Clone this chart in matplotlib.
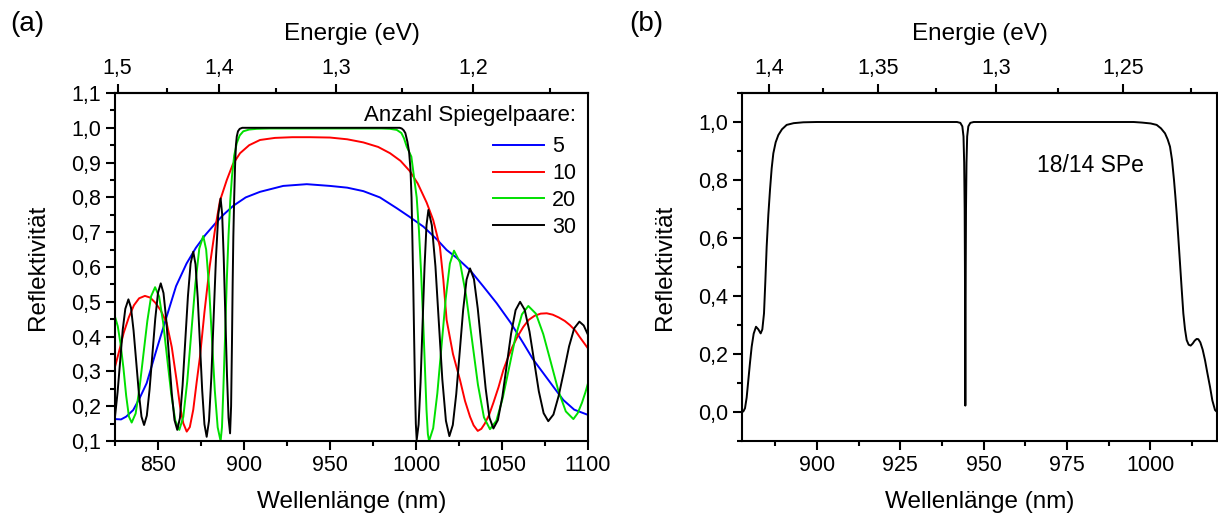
import numpy as np
import matplotlib
matplotlib.use("Agg")
import matplotlib.pyplot as plt
from matplotlib.ticker import MultipleLocator, FixedLocator, FuncFormatter

plt.rcParams["font.family"] = ["Liberation Sans", "DejaVu Sans"]

HC = 1239.84  # eV*nm

# ---- (a) Reflektivität vs. Wellenlänge für verschiedene Spiegelpaare ----
wl_5 = [825.0, 828.5, 831.5, 835.6, 839.5, 843.4, 849.0, 855.0, 860.5, 866.6,
        872.0, 877.5, 883.1, 888.0, 893.8, 901.0, 909.3, 922.8, 936.5, 950.0,
        960.0, 969.4, 979.0, 988.8, 996.0, 1004.3, 1012.0, 1017.8, 1024.0, 1031.4,
        1039.0, 1046.9, 1055.0, 1062.4, 1068.0, 1074.0, 1080.0, 1085.6, 1092.0, 1100.0]
r_5 = [0.163, 0.162, 0.170, 0.189, 0.225, 0.266, 0.360, 0.457, 0.545, 0.610,
       0.655, 0.692, 0.724, 0.750, 0.776, 0.800, 0.816, 0.833, 0.838, 0.833,
       0.828, 0.818, 0.800, 0.769, 0.745, 0.716, 0.680, 0.649, 0.625, 0.591,
       0.545, 0.496, 0.440, 0.381, 0.335, 0.295, 0.255, 0.218, 0.190, 0.175]

wl_10 = [825.0, 827.5, 830.0, 833.0, 836.0, 839.0, 842.4, 845.5, 848.5, 851.5,
         855.0, 858.0, 860.8, 862.8, 864.7, 866.7, 868.5, 870.5, 872.5, 874.4,
         877.0, 880.0, 883.1, 886.0, 890.0, 893.5, 897.7, 903.0, 909.3, 918.0,
         928.0, 938.4, 950.0, 960.0, 969.4, 978.0, 984.9, 991.0, 996.5, 1001.0,
         1006.2, 1010.0, 1013.9, 1015.9, 1017.8, 1021.5, 1025.6, 1028.5, 1031.4, 1033.5,
         1035.9, 1038.0, 1040.0, 1042.5, 1045.0, 1048.0, 1050.8, 1053.5, 1056.0, 1059.0,
         1062.4, 1065.5, 1069.0, 1072.5, 1076.0, 1079.5, 1083.0, 1086.5, 1089.5, 1092.5,
         1095.0, 1097.5, 1100.0]
r_10 = [0.313, 0.360, 0.410, 0.455, 0.490, 0.510, 0.517, 0.512, 0.497, 0.476,
        0.440, 0.370, 0.275, 0.200, 0.151, 0.127, 0.140, 0.190, 0.270, 0.342,
        0.470, 0.600, 0.706, 0.790, 0.850, 0.895, 0.927, 0.950, 0.965, 0.971,
        0.973, 0.973, 0.972, 0.967, 0.958, 0.945, 0.927, 0.905, 0.875, 0.840,
        0.785, 0.735, 0.658, 0.563, 0.448, 0.350, 0.275, 0.215, 0.170, 0.145,
        0.129, 0.135, 0.150, 0.175, 0.210, 0.255, 0.304, 0.340, 0.370, 0.400,
        0.428, 0.448, 0.460, 0.466, 0.467, 0.463, 0.455, 0.445, 0.433, 0.418,
        0.400, 0.383, 0.366]

wl_20 = [825.0, 826.6, 828.2, 829.9, 831.5, 833.1, 834.7, 837.0, 839.2, 841.5,
         843.8, 846.0, 848.3, 850.65, 853.0, 855.35, 857.7, 860.05, 862.4, 864.7,
         867.0, 869.35, 871.7, 874.0, 876.3, 878.0, 879.7, 881.35, 883.0, 884.7,
         886.4, 887.2, 888.0, 889.0, 890.0, 891.0, 892.0, 893.0, 894.3, 895.8,
         897.5, 899.6, 903.0, 907.4, 915.0, 960.0, 980.0, 985.0, 988.8, 991.5,
         993.0, 994.6, 997.3, 1000.4, 1001.7, 1003.0, 1004.2, 1005.2, 1006.1, 1006.9,
         1007.6, 1010.0, 1012.4, 1014.85, 1017.3, 1019.7, 1022.1, 1025.6, 1029.1, 1032.55,
         1036.0, 1039.5, 1043.0, 1046.7, 1050.4, 1054.15, 1057.9, 1061.6, 1065.3, 1069.7,
         1074.0, 1078.4, 1082.8, 1087.1, 1091.5, 1094.0, 1096.5, 1098.5, 1100.0]
r_20 = [0.457, 0.430, 0.380, 0.310, 0.230, 0.170, 0.153, 0.179, 0.250, 0.348,
        0.445, 0.516, 0.542, 0.515, 0.440, 0.337, 0.235, 0.159, 0.132, 0.169,
        0.271, 0.411, 0.550, 0.653, 0.689, 0.650, 0.542, 0.395, 0.247, 0.139,
        0.100, 0.140, 0.250, 0.400, 0.563, 0.690, 0.790, 0.860, 0.920, 0.956,
        0.978, 0.990, 0.995, 0.997, 0.998, 0.998, 0.998, 0.997, 0.994, 0.985,
        0.970, 0.946, 0.917, 0.800, 0.706, 0.580, 0.440, 0.310, 0.190, 0.120,
        0.100, 0.137, 0.237, 0.374, 0.510, 0.610, 0.647, 0.613, 0.519, 0.391,
        0.262, 0.168, 0.134, 0.158, 0.223, 0.311, 0.400, 0.464, 0.488, 0.466,
        0.407, 0.326, 0.244, 0.185, 0.163, 0.180, 0.210, 0.240, 0.266]

wl_30 = [825.0, 826.5, 828.0, 829.5, 831.0, 832.8, 834.3, 835.8, 837.35, 838.9,
         840.4, 841.9, 843.5, 845.1, 846.75, 848.4, 850.0, 851.6, 853.2, 854.8,
         856.4, 858.0, 859.6, 861.2, 862.75, 864.3, 865.85, 867.4, 868.95, 870.5,
         871.8, 873.1, 874.4, 875.7, 877.0, 878.3, 879.65, 881.0, 882.35, 883.7,
         885.05, 886.4, 887.3, 888.2, 889.15, 890.1, 891.0, 891.9, 892.5, 893.0,
         893.4, 893.8, 894.3, 894.8, 895.3, 895.8, 896.5, 897.5, 899.0, 950.0,
         990.5, 991.7, 992.8, 993.8, 995.0, 996.0, 996.8, 997.4, 997.9, 998.4,
         998.9, 999.4, 999.9, 1000.4, 1001.5, 1002.65, 1003.8, 1004.95, 1006.1, 1007.2,
         1009.2, 1011.3, 1013.3, 1015.3, 1017.4, 1019.4, 1021.4, 1023.4, 1025.4, 1027.4,
         1029.4, 1031.4, 1033.7, 1035.9, 1038.2, 1040.5, 1042.7, 1045.0, 1047.6, 1050.2,
         1052.75, 1055.3, 1057.9, 1060.5, 1063.2, 1066.0, 1068.7, 1071.4, 1074.2, 1076.9,
         1079.9, 1082.9, 1086.0, 1089.0, 1092.0, 1095.0, 1097.5, 1100.0]
r_30 = [0.170, 0.240, 0.330, 0.420, 0.480, 0.507, 0.483, 0.417, 0.327, 0.236,
        0.170, 0.146, 0.173, 0.248, 0.350, 0.451, 0.526, 0.553, 0.525, 0.448,
        0.343, 0.237, 0.160, 0.132, 0.166, 0.260, 0.388, 0.516, 0.610, 0.644,
        0.608, 0.511, 0.378, 0.245, 0.148, 0.112, 0.158, 0.283, 0.455, 0.626,
        0.751, 0.797, 0.752, 0.628, 0.460, 0.291, 0.167, 0.122, 0.200, 0.380,
        0.550, 0.687, 0.800, 0.890, 0.950, 0.975, 0.990, 0.997, 1.000, 1.000,
        1.000, 0.998, 0.993, 0.985, 0.960, 0.930, 0.880, 0.800, 0.680, 0.550,
        0.400, 0.260, 0.150, 0.103, 0.147, 0.268, 0.434, 0.599, 0.720, 0.764,
        0.720, 0.602, 0.439, 0.277, 0.158, 0.114, 0.146, 0.235, 0.355, 0.476,
        0.564, 0.596, 0.565, 0.481, 0.366, 0.251, 0.167, 0.136, 0.160, 0.227,
        0.318, 0.409, 0.476, 0.500, 0.477, 0.414, 0.329, 0.243, 0.180, 0.157,
        0.176, 0.229, 0.300, 0.372, 0.424, 0.443, 0.432, 0.405]

series_a = [("5", wl_5, r_5, "#0000ff"),
            ("10", wl_10, r_10, "#ff0000"),
            ("20", wl_20, r_20, "#00e000"),
            ("30", wl_30, r_30, "#000000")]

# ---- (b) 18/14 Spiegelpaare mit Kavität ----
wl_b = [877.5, 877.9, 878.4, 878.9, 879.4, 879.9, 880.4, 881.0, 881.7, 882.4,
        883.1, 883.6, 884.1, 884.5, 884.9, 885.4, 885.9, 886.4, 886.9, 887.6,
        888.4, 889.5, 890.9, 893.0, 895.9, 900.0, 942.0, 943.0, 943.6, 943.95,
        944.15, 944.3, 944.38, 944.44, 944.5, 944.56, 944.62, 944.7, 944.85, 945.05,
        945.4, 946.0, 947.0, 995.0, 997.5, 1000.1, 1001.9, 1003.2, 1004.4, 1005.2,
        1005.9, 1006.5, 1007.1, 1007.5, 1007.9, 1008.4, 1008.9, 1009.4, 1009.9, 1010.4,
        1010.9, 1011.5, 1012.1, 1012.7, 1013.3, 1013.9, 1014.4, 1015.0, 1015.7, 1016.4,
        1017.1, 1017.9, 1018.6, 1019.4, 1020.0]
r_b = [0.000, 0.002, 0.013, 0.050, 0.110, 0.170, 0.225, 0.270, 0.294, 0.285,
       0.271, 0.285, 0.340, 0.450, 0.570, 0.680, 0.766, 0.840, 0.892, 0.930,
       0.955, 0.975, 0.990, 0.996, 0.999, 1.000, 1.000, 0.997, 0.985, 0.950,
       0.860, 0.700, 0.500, 0.250, 0.022, 0.250, 0.500, 0.700, 0.860, 0.950,
       0.985, 0.997, 1.000, 1.000, 0.998, 0.995, 0.990, 0.978, 0.961, 0.940,
       0.915, 0.870, 0.800, 0.745, 0.685, 0.600, 0.513, 0.425, 0.340, 0.285,
       0.248, 0.232, 0.229, 0.236, 0.246, 0.252, 0.251, 0.240, 0.215, 0.179,
       0.135, 0.087, 0.040, 0.007, 0.000]

top_a = [1.5, 1.4, 1.3, 1.2]
top_a_minor = [1.45, 1.35, 1.25, 1.15]
top_b = [1.4, 1.35, 1.3, 1.25]
top_b_minor = [1.375, 1.325, 1.275, 1.225]

TICK_FS = 15.5
LABEL_FS = 17.5


def nm_to_ev(x):
    x = np.asarray(x, dtype=float)
    with np.errstate(divide="ignore"):
        return HC / x


def comma(fmt):
    return FuncFormatter(lambda v, p: fmt.format(v).replace(".", ","))


def ev_label(v, p):
    s = "{:.3f}".format(v).rstrip("0").rstrip(".")
    return s.replace(".", ",")


def style_axes(ax):
    for sp in ax.spines.values():
        sp.set_linewidth(1.5)
    ax.tick_params(which="both", direction="out", width=1.5, labelsize=TICK_FS,
                   right=False, top=False)
    ax.tick_params(which="major", length=6.5)
    ax.tick_params(which="minor", length=3.5)


def energy_axis(ax, major, minor):
    sec = ax.secondary_xaxis("top", functions=(nm_to_ev, nm_to_ev))
    sec.xaxis.set_major_locator(FixedLocator(major))
    sec.xaxis.set_minor_locator(FixedLocator(minor))
    sec.xaxis.set_major_formatter(FuncFormatter(ev_label))
    sec.tick_params(which="both", direction="out", width=1.5, labelsize=TICK_FS)
    sec.tick_params(which="major", length=6.5)
    sec.tick_params(which="minor", length=3.5)
    sec.spines["top"].set_linewidth(1.5)
    sec.set_xlabel("Energie (eV)", fontsize=LABEL_FS, labelpad=13)
    return sec


fig = plt.figure(figsize=(12.18, 5.16), dpi=100)
ax1 = fig.add_axes([115 / 1218, 75 / 516, 473 / 1218, 348 / 516])
ax2 = fig.add_axes([742 / 1218, 75 / 516, 475 / 1218, 348 / 516])

for label, wl, r, col in series_a:
    ax1.plot(wl, r, color=col, lw=1.4, label=label)
ax1.set_xlim(825, 1100)
ax1.set_ylim(0.1, 1.1)
ax1.xaxis.set_major_locator(MultipleLocator(50))
ax1.xaxis.set_minor_locator(MultipleLocator(25))
ax1.yaxis.set_major_locator(MultipleLocator(0.1))
ax1.yaxis.set_minor_locator(MultipleLocator(0.05))
ax1.yaxis.set_major_formatter(comma("{:.1f}"))
style_axes(ax1)
ax1.set_xlabel("Wellenlänge (nm)", fontsize=LABEL_FS, labelpad=11)
ax1.set_ylabel("Reflektivität", fontsize=LABEL_FS, labelpad=16)
energy_axis(ax1, top_a, top_a_minor)
leg = ax1.legend(title="Anzahl Spiegelpaare:", loc="upper right", frameon=False,
                 fontsize=15.5, title_fontsize=16, alignment="right",
                 handlelength=2.4, handletextpad=0.35, labelspacing=0.27,
                 borderaxespad=0.5, borderpad=0.05)
leg._legend_box.sep = 7.5  # extra gap below the title

ax2.plot(wl_b, r_b, color="black", lw=1.4)
ax2.set_xlim(877.5, 1020)
ax2.set_ylim(-0.1, 1.1)
ax2.xaxis.set_major_locator(MultipleLocator(25))
ax2.xaxis.set_minor_locator(MultipleLocator(12.5))
ax2.yaxis.set_major_locator(MultipleLocator(0.2))
ax2.yaxis.set_minor_locator(MultipleLocator(0.1))
ax2.yaxis.set_major_formatter(comma("{:.1f}"))
style_axes(ax2)
ax2.set_xlabel("Wellenlänge (nm)", fontsize=LABEL_FS, labelpad=11)
ax2.set_ylabel("Reflektivität", fontsize=LABEL_FS, labelpad=16)
energy_axis(ax2, top_b, top_b_minor)
ax2.text(966, 0.85, "18/14 SPe", fontsize=16.5, ha="left", va="center")

fig.text(27 / 1218, 1 - 24 / 516, "(a)", fontsize=20, ha="center", va="center")
fig.text(646 / 1218, 1 - 24 / 516, "(b)", fontsize=20, ha="center", va="center")

fig.savefig("out.png", dpi=100)
